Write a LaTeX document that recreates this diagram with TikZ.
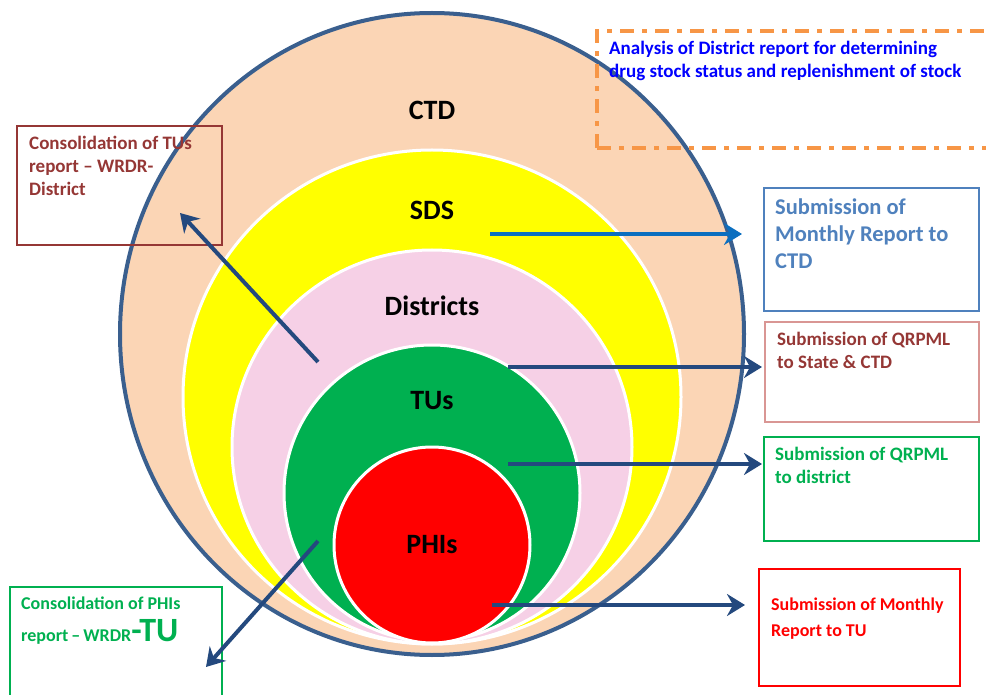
\documentclass[tikz,border=0pt]{standalone}
\usepackage{fontspec}
\setmainfont{Carlito}
\usetikzlibrary{arrows.meta}
\definecolor{peach}{HTML}{FBD5B5}
\definecolor{pinkd}{HTML}{F6D0E6}
\definecolor{greenc}{HTML}{00B050}
\definecolor{outerb}{HTML}{3A5F8E}
\definecolor{arrowb}{HTML}{24497E}
\definecolor{arrowl}{HTML}{0B6FC0}
\definecolor{orangeb}{HTML}{F79646}
\definecolor{darkred}{HTML}{953735}
\definecolor{pinkb}{HTML}{D99694}
\definecolor{steel}{HTML}{4F81BD}
\definecolor{yell}{HTML}{FFFF00}
\tikzset{
  lvl/.style={font=\bfseries\fontsize{28}{32}\selectfont, text=black},
  infotext/.style={anchor=north west, align=left, font=\bfseries\fontsize{19}{23}\selectfont, inner sep=0pt},
  flow/.style={line width=4pt, color=arrowb, -{Stealth[length=18pt,width=22pt,inset=6pt]}},
  ring/.style={draw=white, line width=3pt}
}
\begin{document}
\begin{tikzpicture}[x=1pt,y=-1pt]
\useasboundingbox (0,0) rectangle (986,695);
% circles
\filldraw[fill=peach, draw=outerb, line width=4pt] (432,334) ellipse [x radius=312, y radius=321];
\filldraw[fill=yell, ring] (432,397) ellipse [x radius=249, y radius=247];
\filldraw[fill=pinkd, ring] (432,447) ellipse [x radius=200, y radius=197];
\filldraw[fill=greenc, ring] (432,493) ellipse [x radius=148, y radius=148];
\filldraw[fill=red, ring] (432,545) ellipse [x radius=98, y radius=98];
% level labels
\node[lvl] (ctd) at (432,110) {CTD};
\node[lvl] (sds) at (432,210) {SDS};
\node[lvl] (dist) at (432,306) {Districts};
\node[lvl] (tus) at (432,401) {TUs};
\node[lvl] (phis) at (432,545) {PHIs};
% dashed box
\draw[orangeb, line width=4pt, dash pattern=on 14pt off 8pt on 5pt off 8pt] (597,148) -- (597,31) -- (990,31);
\draw[orangeb, line width=4pt, dash pattern=on 14pt off 8pt on 5pt off 8pt] (597,148) -- (990,148);
\node[infotext, text=blue] (analysis) at (609,41) {Analysis of District report for determining\\drug stock status and replenishment of stock};
% boxes
\draw[darkred, line width=2pt] (17,126) rectangle (222,245);
\node[infotext, text=darkred] (tusbox) at (29,136) {Consolidation of TUs\\report -- WRDR-\\District};
\draw[steel, line width=2pt] (764,188) rectangle (979,311);
\node[infotext, text=steel, font=\bfseries\fontsize{22.5}{27}\selectfont] (ctdbox) at (775,199) {Submission of\\Monthly Report to\\CTD};
\draw[pinkb, line width=2pt] (765,322) rectangle (979,422);
\node[infotext, text=darkred] (statebox) at (777,332) {Submission of QRPML\\to State \& CTD};
\draw[greenc, line width=2pt] (764,437) rectangle (979,541);
\node[infotext, text=greenc] (distbox) at (775,447) {Submission of QRPML\\to district};
\draw[red, line width=2pt] (759,569) rectangle (960,686);
\node[infotext, text=red, font=\bfseries\fontsize{18}{26}\selectfont] (tubox) at (771,598) {Submission of Monthly\\Report to TU};
\draw[greenc, line width=2pt] (10,700) -- (10,587) -- (222,587) -- (222,700);
\node[infotext, text=greenc, font=\bfseries\fontsize{18}{32}\selectfont] (phibox) at (21,597) {Consolidation of PHIs\\report\,--\,WRDR{\fontsize{34}{32}\selectfont-TU}};
% arrows
\coordinate (a1s) at (490,234); \coordinate (a1e) at (742,234);
\coordinate (a2s) at (508,367); \coordinate (a2e) at (762,367);
\coordinate (a3s) at (508,464); \coordinate (a3e) at (762,464);
\coordinate (a4s) at (492,605); \coordinate (a4e) at (745,605);
\coordinate (a5s) at (318,362); \coordinate (a5e) at (180,213);
\coordinate (a6s) at (318,541); \coordinate (a6e) at (206,667);
\draw[flow, color=arrowl] (a1s) -- (a1e);
\draw[flow] (a2s) -- (a2e);
\draw[flow] (a3s) -- (a3e);
\draw[flow] (a4s) -- (a4e);
\draw[flow] (a5s) -- (a5e);
\draw[flow] (a6s) -- (a6e);
\end{tikzpicture}
\end{document}
